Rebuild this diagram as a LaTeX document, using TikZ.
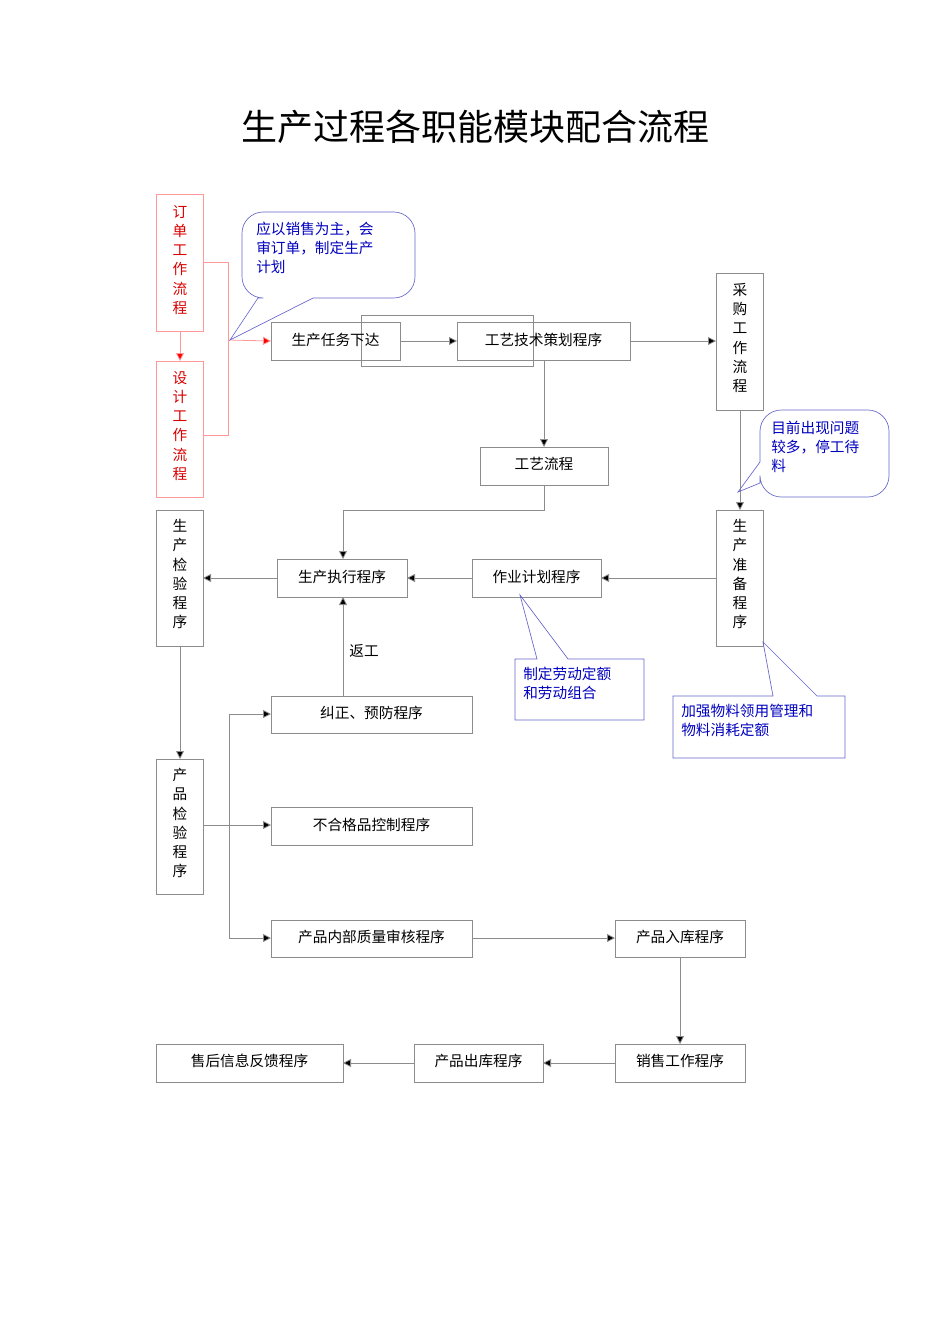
\documentclass[tikz,border=0pt]{standalone}
\usepackage{fontspec}
\setmainfont{Noto Sans CJK SC}
\begin{document}
\begin{tikzpicture}[x=0.75pt,y=-0.75pt,
  bx/.style={draw=black!45,line width=0.6pt,font=\fontsize{11}{13}\selectfont},
  vb/.style={draw=black!45,line width=0.6pt,font=\fontsize{11}{14.3}\selectfont,align=center,anchor=north west,inner sep=0pt},
  ln/.style={draw=black!45,line width=0.6pt},
  ar/.style={ln,-{Triangle[length=6pt,width=6pt,fill=black]}},
  rar/.style={draw=red!40,line width=0.6pt,-{Triangle[length=6pt,width=6pt,fill=red]}},
  co/.style={draw=blue!50!white!80!black,line width=0.5pt},
  ct/.style={text=blue!75!black,font=\fontsize{11}{14.3}\selectfont,align=left,anchor=north west,inner sep=0pt}]
\useasboundingbox[fill=white] (0,0) rectangle (950,1344);
\usetikzlibrary{arrows.meta}
\node (title) at (475,127) {\fontsize{27}{30}\selectfont 生产过程各职能模块配合流程};
% helper: box by corners
\newcommand{\bxx}[6][]{\draw[#1] (#3,#4) rectangle (#5,#6); \node[#1,draw=none] (#2) at ({(#3+#5)/2},{(#4+#6)/2}) {};
  \coordinate (#2-n) at ({(#3+#5)/2},#4); \coordinate (#2-s) at ({(#3+#5)/2},#6);
  \coordinate (#2-w) at (#3,{(#4+#6)/2}); \coordinate (#2-e) at (#5,{(#4+#6)/2});}
% red boxes
\draw[draw=red!40,line width=0.6pt] (156,194) rectangle (203,331);
\node[text=red!85!black,vb,draw=none,anchor=center] (dd) at (180,260) {订\\单\\工\\作\\流\\程};
\draw[draw=red!40,line width=0.6pt] (156,361) rectangle (203,497);
\node[text=red!85!black,vb,draw=none,anchor=center] (sj) at (180,426) {设\\计\\工\\作\\流\\程};
\draw[rar] (180,331) -- (180,361);
\draw[draw=red!40,line width=0.6pt] (203,262) -- (228,262) -- (228,435) -- (203,435);
\coordinate (rj) at (228,340);
% boxes
\node[bx,minimum width=129,minimum height=38,x=1pt] (rw) at (335.5,341) {};
\draw[ln] (271,322) rectangle (400,360); \node[bx,draw=none] (rwt) at (335.5,340) {生产任务下达};
\draw[ln] (457,322) rectangle (630,360); \node[bx,draw=none] (gy) at (543.5,340) {工艺技术策划程序};
\draw[ln] (716,273) rectangle (763,410); \node[vb,draw=none,anchor=center] (cg) at (740,338) {采\\购\\工\\作\\流\\程};
\draw[ln] (480,447) rectangle (608,485); \node[bx,draw=none] (gl) at (544,464) {工艺流程};
\draw[ln] (716,510) rectangle (763,646); \node[vb,draw=none,anchor=center] (zb) at (740,574) {生\\产\\准\\备\\程\\序};
\draw[ln] (156,510) rectangle (203,646); \node[vb,draw=none,anchor=center] (jy) at (180,574) {生\\产\\检\\验\\程\\序};
\draw[ln] (277,559) rectangle (407,597); \node[bx,draw=none] (zx) at (342,577) {生产执行程序};
\draw[ln] (472,559) rectangle (601,597); \node[bx,draw=none] (zy) at (536.5,577) {作业计划程序};
\draw[ln] (271,696) rectangle (472,733); \node[bx,draw=none] (jz) at (371.5,713) {纠正、预防程序};
\draw[ln] (156,759) rectangle (203,894); \node[vb,draw=none,anchor=center] (cp) at (180,823) {产\\品\\检\\验\\程\\序};
\draw[ln] (271,807) rectangle (472,845); \node[bx,draw=none] (bh) at (371.5,825) {不合格品控制程序};
\draw[ln] (271,920) rectangle (472,957); \node[bx,draw=none] (sh) at (371.5,937) {产品内部质量审核程序};
\draw[ln] (615,920) rectangle (745,957); \node[bx,draw=none] (rk) at (680,937) {产品入库程序};
\draw[ln] (615,1044) rectangle (745,1082); \node[bx,draw=none] (xs) at (680,1061) {销售工作程序};
\draw[ln] (414,1044) rectangle (543,1082); \node[bx,draw=none] (ck) at (478.5,1061) {产品出库程序};
\draw[ln] (156,1044) rectangle (343,1082); \node[bx,draw=none] (fk) at (249.5,1061) {售后信息反馈程序};
\node[bx,draw=none] (fg) at (364,651) {返工};
% connectors
\draw[rar] (rj) -- (271,341);
\draw[ar] (400,341) -- (457,341);
\draw[ar] (630,341) -- (716,341);
\draw[ar] (544,360) -- (544,447);
\draw[ar] (544,485) -- (544,510) -- (343,510) -- (343,559);
\draw[ar] (740,410) -- (740,510);
\draw[ar] (716,578) -- (601,578);
\draw[ar] (472,578) -- (407,578);
\draw[ar] (277,578) -- (203,578);
\draw[ar] (180,646) -- (180,759);
\draw[ar] (343,696) -- (343,597);
\draw[ar] (203,825) -- (271,825);
\draw[ln] (229,714) -- (229,938);
\draw[ar] (229,714) -- (271,714);
\draw[ar] (229,938) -- (271,938);
\draw[ar] (472,938) -- (615,938);
\draw[ar] (680,957) -- (680,1044);
\draw[ar] (615,1063) -- (543,1063);
\draw[ar] (414,1063) -- (343,1063);
% callouts
\draw[co] (313,298) [rounded corners=16pt]-- (415,298) -- (415,212) -- (242,212) -- (242,298) [sharp corners]-- (258,298) -- (230,340) -- cycle;
\node[ct] (c1) at (256,222) {应以销售为主，会\\审订单，制定生产\\计划};
\draw[co] (760,462) [rounded corners=16pt]-- (760,410) -- (889,410) -- (889,497) -- (760,497) [sharp corners]-- (760,483) -- (738,492) -- cycle;
\node[ct] (c2) at (771,421) {目前出现问题\\较多，停工待\\料};
\draw[co] (537,659) -- (515,659) -- (515,720) -- (644,720) -- (644,659) -- (568,659) -- (520,595) -- cycle;
\node[ct] (c3) at (523,667) {制定劳动定额\\和劳动组合};
\draw[co] (773,696) -- (673,696) -- (673,758) -- (845,758) -- (845,696) -- (817,696) -- (763,642) -- cycle;
\node[ct] (c4) at (681,704) {加强物料领用管理和\\物料消耗定额};
\end{tikzpicture}
\end{document}
